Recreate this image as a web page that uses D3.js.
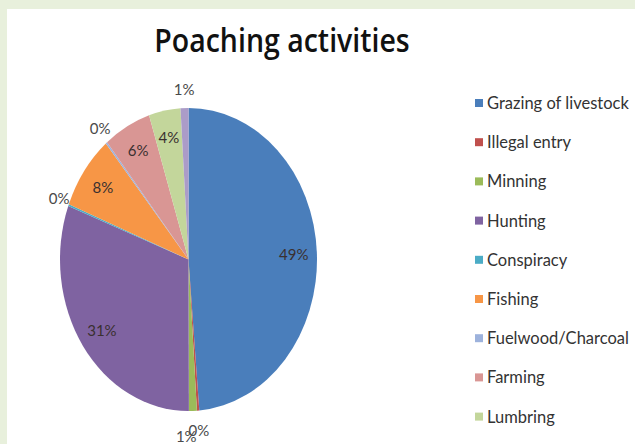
<!DOCTYPE html>
<html>
<head>
<meta charset="utf-8">
<script src="https://cdn.jsdelivr.net/npm/d3@7"></script>
<style>
  html, body { margin: 0; padding: 0; background: #ffffff; }
  svg { display: block; }
</style>
</head>
<body>
<svg id="chart" width="635" height="444"></svg>
<script>
// Poaching activities, share of recorded cases by type
const categories = [
  "Grazing of livestock", "Illegal entry", "Minning", "Hunting", "Conspiracy",
  "Fishing", "Fuelwood/Charcoal", "Farming", "Lumbring", "Others"
];
const values = [49, 0.3, 1, 31, 0.2, 8, 0.2, 6, 4, 1];
const colors = [
  "#4a7ebb", "#c0504d", "#9bbb59", "#7f63a1", "#4bacc6",
  "#f79646", "#9db2dc", "#d99694", "#c3d69b", "#ab9cc8"
];
// labels for very small slices sit outside the pie
const outsideLabel = [false, true, true, false, true, false, true, false, false, true];

const W = 635, H = 444;
const svg = d3.select("#chart");

// page frame: pale green strips along the top and left edges
svg.append("rect").attr("x", 0).attr("y", 0).attr("width", W).attr("height", H).attr("fill", "#ffffff");
svg.append("rect").attr("x", 0).attr("y", 0).attr("width", W).attr("height", 9).attr("fill", "#e8f0dc");
svg.append("rect").attr("x", 0).attr("y", 0).attr("width", 7).attr("height", H).attr("fill", "#e8f0dc");

svg.append("text")
  .attr("transform", "translate(282,52) scale(1,1.12)")
  .attr("text-anchor", "middle")
  .attr("font-family", "'Open Sans', Lato, sans-serif")
  .attr("font-weight", 600)
  .attr("font-size", 28.5)
  .attr("fill", "#111111")
  .text("Poaching activities");

// pie drawn as an ellipse: circle of radius rx, stretched vertically
const cx = 188.5, cy = 259.5, rx = 128.5, ry = 151.5;
const total = d3.sum(values);
const pct = d3.format(".0%");

const pie = d3.pie().sort(null).value(d => d.value);
const data = categories.map((c, i) => ({ name: c, value: values[i], color: colors[i], outside: outsideLabel[i] }));
const arcs = pie(data);
const arc = d3.arc().innerRadius(0).outerRadius(rx);

const g = svg.append("g").attr("transform", `translate(${cx},${cy}) scale(1,${ry / rx})`);
g.selectAll("path")
  .data(arcs)
  .join("path")
  .attr("d", arc)
  .attr("fill", d => d.data.color);

// data labels: inside ones along the slice's mid-angle,
// outside ones just beyond the rim
function labelPos(d) {
  const a = (d.startAngle + d.endAngle) / 2;
  const s = Math.sin(a), c = Math.cos(a);
  if (d.data.outside) {
    return [cx + s * rx + s * 10, cy - c * ry - c * 19];
  }
  const k = 0.82;
  return [cx + s * rx * k, cy - c * ry * k];
}

const placed = arcs.map(d => ({ d, p: labelPos(d) }));
// nudge an outside label that lands on the previous outside one
let prev = null;
placed.forEach(l => {
  if (!l.d.data.outside) return;
  if (prev && Math.abs(l.p[0] - prev.p[0]) < 20 && Math.abs(l.p[1] - prev.p[1]) < 12) {
    l.p = [l.p[0] - 7, l.p[1] + 6];
  }
  prev = l;
});

const labels = svg.append("g")
  .attr("font-family", "Lato, 'Open Sans', sans-serif")
  .attr("font-size", 15);

labels.selectAll("text")
  .data(placed)
  .join("text")
  .attr("x", l => l.p[0])
  .attr("y", l => l.p[1])
  .attr("text-anchor", "middle")
  .attr("dominant-baseline", "central")
  .attr("fill", l => l.d.data.outside ? "#4a4a4a" : "#3a3030")
  .text(l => pct(l.d.value / total));

// legend
const legendX = 475, legendY0 = 103, legendStep = 39.2;
const rows = data.map((d, i) => ({ ...d, y: legendY0 + i * legendStep }))
  .filter(d => d.y + 8 < H);
const lg = svg.append("g")
  .attr("font-family", "Lato, 'Open Sans', sans-serif")
  .attr("font-size", 16.5);
const item = lg.selectAll("g").data(rows).join("g")
  .attr("transform", d => `translate(${legendX},${d.y})`);
item.append("rect")
  .attr("x", 0).attr("y", -4).attr("width", 8).attr("height", 8)
  .attr("fill", d => d.color);
item.append("text")
  .attr("x", 12).attr("y", 0)
  .attr("dominant-baseline", "central")
  .attr("fill", "#333333")
  .text(d => d.name);
</script>
</body>
</html>
